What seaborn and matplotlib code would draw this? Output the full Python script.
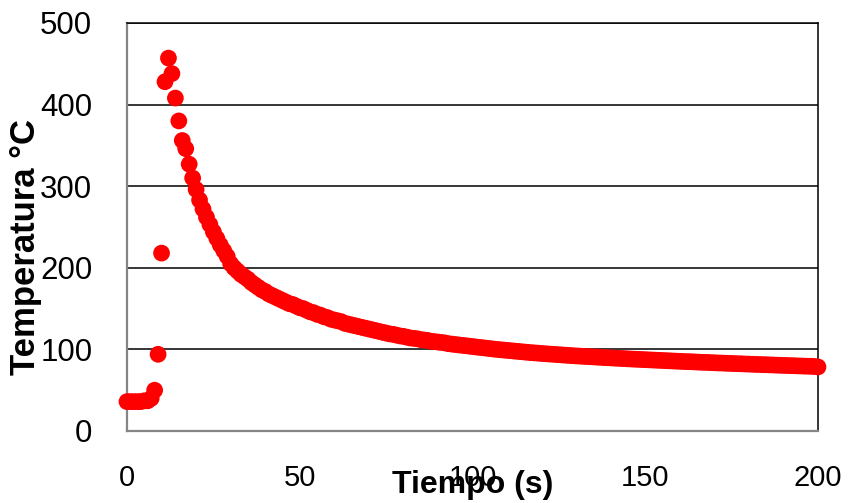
import matplotlib
matplotlib.use("Agg")
import matplotlib.pyplot as plt
import seaborn as sns
import pandas as pd

# Tiempo en segundos (una lectura por segundo)
tiempo = list(range(0, 201))

# Calentamiento inicial y pico (0 - 20 s)
temp_calentamiento = [36, 36, 36, 36, 36, 37, 37, 40, 50, 94, 218,
                      428, 457, 438, 408, 380, 356, 346, 327, 310, 296]

# Enfriamiento rapido (21 - 80 s)
temp_enfriamiento_1 = [283, 272, 262, 253, 244, 236, 228, 221, 214, 205,
                       200, 196, 192, 189, 186, 182, 179, 176, 173, 171,
                       168, 166, 164, 162, 160, 158, 156, 155, 153, 151,
                       150, 148, 146, 145, 143, 142, 140, 139, 137, 136,
                       135, 134, 132, 131, 130, 129, 128, 127, 126, 125,
                       124, 123, 122, 121, 120, 119, 118.5, 117.5, 116.5, 116]

# Enfriamiento lento (81 - 140 s)
temp_enfriamiento_2 = [115, 114, 113.5, 113, 112, 111.5, 111, 110, 109.5, 109,
                       108.5, 108, 107, 106.5, 106, 105.5, 105, 104.5, 104, 103.5,
                       103, 102.5, 102, 101.5, 101, 100.5, 100, 99.6, 99.2, 98.8,
                       98.4, 98, 97.6, 97.2, 96.8, 96.4, 96, 95.7, 95.4, 95,
                       94.7, 94.4, 94.1, 93.8, 93.5, 93.2, 92.9, 92.6, 92.3, 92,
                       91.8, 91.5, 91.3, 91, 90.8, 90.5, 90.3, 90, 89.8, 89.6]

# Estabilizacion (141 - 200 s)
temp_enfriamiento_3 = [89.3, 89.1, 88.9, 88.7, 88.4, 88.2, 88, 87.8, 87.6, 87.4,
                       87.2, 87, 86.8, 86.6, 86.4, 86.2, 86, 85.8, 85.6, 85.4,
                       85.2, 85, 84.9, 84.7, 84.5, 84.3, 84.1, 84, 83.8, 83.6,
                       83.4, 83.3, 83.1, 82.9, 82.8, 82.6, 82.4, 82.3, 82.1, 82,
                       81.8, 81.6, 81.5, 81.3, 81.2, 81, 80.9, 80.7, 80.6, 80.4,
                       80.3, 80.1, 80, 79.8, 79.7, 79.5, 79.4, 79.3, 79.1, 78.5]

temperatura = (temp_calentamiento + temp_enfriamiento_1
               + temp_enfriamiento_2 + temp_enfriamiento_3)

x_ticks = [0, 50, 100, 150, 200]
y_ticks = [0, 100, 200, 300, 400, 500]

sns.set_style("white")
plt.rcParams["font.family"] = ["Liberation Sans", "DejaVu Sans"]
plt.rcParams["text.color"] = "black"
plt.rcParams["xtick.color"] = "black"
plt.rcParams["ytick.color"] = "black"

W, H = 850, 503
fig = plt.figure(figsize=(W / 100, H / 100), dpi=100)
left, right, top, bottom = 127, 818, 23, 431
ax = fig.add_axes([left / W, 1 - bottom / H, (right - left) / W, (bottom - top) / H])

df = pd.DataFrame({"Tiempo": tiempo, "Temperatura": temperatura})

# horizontal gridlines
for yv in y_ticks[1:]:
    ax.axhline(yv, color="black", linewidth=1.1, zorder=1)

sns.scatterplot(data=df, x="Tiempo", y="Temperatura", ax=ax,
                color="#FF0000", s=145, linewidth=0, edgecolor="none",
                zorder=3, clip_on=False, legend=False)

ax.set_xlim(0, 200)
ax.set_ylim(0, 500)
ax.set_xticks(x_ticks)
ax.set_yticks(y_ticks)
ax.set_xticklabels([str(v) for v in x_ticks], fontsize=21, color="black")
ax.set_yticklabels([str(v) for v in y_ticks], fontsize=22.5, color="black")
ax.tick_params(axis="both", length=0)
ax.tick_params(axis="y", pad=25)
ax.tick_params(axis="x", pad=24)

for side in ["left", "bottom"]:
    ax.spines[side].set_color("#858585")
    ax.spines[side].set_linewidth(1.6)
for side in ["top", "right"]:
    ax.spines[side].set_color("black")
    ax.spines[side].set_linewidth(1.1)
    ax.spines[side].set_visible(True)

ax.set_xlabel("")
ax.set_ylabel("")

fig.text(473 / W, 1 - 485 / H, "Tiempo (s)", ha="center", va="center",
         fontsize=23, fontweight="bold", color="black")
fig.text(26 / W, 1 - 247 / H, "Temperatura °C", ha="center", va="center",
         rotation=90, fontsize=25, fontweight="bold", color="black")

fig.savefig("out.png", dpi=100, facecolor="white")
